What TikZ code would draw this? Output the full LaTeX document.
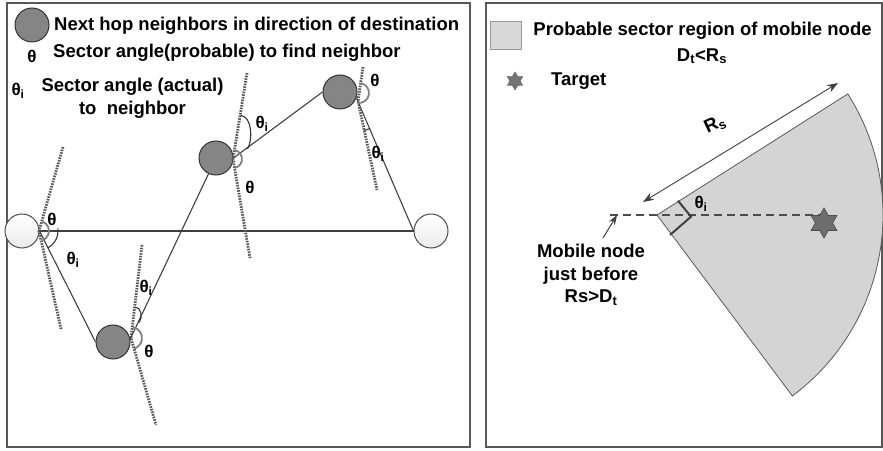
\documentclass[tikz,border=0pt]{standalone}
\usepackage{fontspec}
\setmainfont{Liberation Sans}
\usetikzlibrary{shapes.geometric,arrows.meta,calc}
\newcommand\thetai{θ\textsubscript{i}}
\begin{document}
\begin{tikzpicture}[x=1pt,y=1pt,
  every node/.style={font=\bfseries\fontsize{18.5}{22.5}\selectfont, inner sep=0pt},
  panel/.style={draw=black!65, line width=1.4pt},
  grayn/.style={circle, minimum size=34pt, draw=black!80, line width=1pt, fill=black!48},
  whiten/.style={circle, minimum size=34pt, draw=black!70, line width=1pt, top color=white, bottom color=black!8},
  link/.style={draw=black!75, line width=1.1pt},
  sectline/.style={draw=black!65, line width=2.8pt, dash pattern=on 1.6pt off 1.1pt},
  garc/.style={draw=black!50, line width=1.8pt},
  darc/.style={draw=black!80, line width=1.1pt},
  lab/.style={font=\bfseries\fontsize{17}{20}\selectfont},
  hexstar/.style={star, star points=6, star point ratio=1.73},
]
\useasboundingbox (0,0) rectangle (883,450);
% ---------- left panel ----------
\draw[panel] (7,3) rectangle (470,447);
\node[grayn] (lg) at (32,425) {};
\node[anchor=west] (lt1) at (54,424) {Next hop neighbors in direction of destination};
\node[lab] (lth) at (32,394) {θ};
\node[anchor=west] (lt2) at (53,397) {Sector angle(probable) to find neighbor};
\node[lab] (lthi) at (18,359) {\thetai};
\node[align=center] (lt3) at (132.5,351.5) {Sector angle (actual)\\to\ \ neighbor};

\node[whiten] (s) at (22,219) {};
\node[whiten] (d) at (431,219) {};
\node[grayn] (n1) at (113,108) {};
\node[grayn] (n2) at (216,292) {};
\node[grayn] (n3) at (340,358) {};

\coordinate (A0) at (39,219);
\coordinate (U0) at (63,303); \coordinate (D0) at (61,121);
\coordinate (A1) at (131,112);
\coordinate (U1) at (142,205); \coordinate (D1) at (156,25);
\coordinate (A2) at (233,291);
\coordinate (U2) at (247,377); \coordinate (D2) at (250,192);
\coordinate (A3) at (358,349);
\coordinate (U3) at (363,383); \coordinate (D3) at (377,260);
\coordinate (G3) at (359,357);

\draw[link] (s.east) -- (d.west);
\draw[sectline] (U0) -- (A0) -- (D0);
\draw[sectline] (U1) -- (A1) -- (D1);
\draw[sectline] (U2) -- (A2) -- (D2);
\draw[sectline] (U3) -- (A3) -- (D3);

\draw[link] (s.east) -- (n1.west);
\draw[link] (n1.10) -- (n2);
\draw[link] (n2.east) -- (n3.west);
\draw[link] (n3.-20) -- (d.west);

\draw[garc] ([shift={(70:10)}]A0) arc[start angle=70,end angle=-72,radius=10];
\draw[darc] ([shift={(8:19)}]A0) arc[start angle=8,end angle=-63,radius=19];
\draw[garc] ([shift={(80:11)}]A1) arc[start angle=80,end angle=-72,radius=11];
\draw[darc] (135.3,142.8) .. controls (141,143) and (143,133) .. (139.2,127.4);
\draw[garc] ([shift={(78:9)}]A2) arc[start angle=78,end angle=-78,radius=9];
\draw[darc] (240.6,334.5) .. controls (252,334) and (253,310) .. (247.6,301.2);
\draw[garc] ([shift={(80:10)}]G3) arc[start angle=80,end angle=-95,radius=10];
\draw[darc] ([shift={(-78:30)}]A3) arc[start angle=-78,end angle=-66,radius=30];

\node[lab] (t0) at (52,231) {θ};
\node[lab] (ti0) at (73,190) {\thetai};
\node[lab] (ti1) at (146,162) {\thetai};
\node[lab] (t1) at (149,99) {θ};
\node[lab] (ti2) at (262,326) {\thetai};
\node[lab] (t2) at (250,263) {θ};
\node[lab] (t3) at (375,370) {θ};
\node[lab] (ti3) at (378,296) {\thetai};

% ---------- right panel ----------
\draw[panel] (486,3) rectangle (882,447);
\node[draw=black!40, fill=black!15, line width=0.8pt, minimum width=31pt, minimum height=28pt] (lsq) at (505.5,415) {};
\node (rt1) at (702.5,419) {Probable sector region of mobile node};
\node (rt2) at (702,394) {D\textsubscript{t}<R\textsubscript{s}};
\node[hexstar, minimum size=18pt, fill=black!55, draw=black!65] (lstar) at (515,369) {};
\node[anchor=west] (rt3) at (551,369) {Target};

\coordinate (P) at (657,235);
\filldraw[fill=black!17, draw=black!65, line width=0.8pt] (P) -- ++(-53.2:226) arc[start angle=-53.2,end angle=32.4,radius=226] -- cycle;

\coordinate (M) at (610,235);
\node[hexstar, minimum size=30pt] (T) at (824,227) {};
\draw[black!70, line width=2.5pt, dash pattern=on 8pt off 5pt] (M) -- (M -| T);
\node[hexstar, minimum size=30pt, fill=black!57, draw=black!70, line width=0.6pt] at (T) {};

\draw[black!75, line width=2pt] (678,249.3) -- (691,233.3) -- (670,215);
\node[lab] (tir) at (701,246) {\thetai};

\coordinate (RA) at (643,248); \coordinate (RB) at (838,367);
\draw[black!75, line width=0.9pt, {Stealth[length=11pt,width=8pt]}-{Stealth[length=11pt,width=8pt]}] (RA) -- (RB);
\node[rotate=25] (rs) at (715,325.5) {R\textsubscript{s}};

\node[align=center] (mn) at (591,175) {Mobile node\\just before\\Rs>D\textsubscript{t}};
\draw[black!75, line width=1pt, -{Stealth[length=10pt,width=7pt]}] (603,212) -- (M -| 617,0);
\end{tikzpicture}
\end{document}
